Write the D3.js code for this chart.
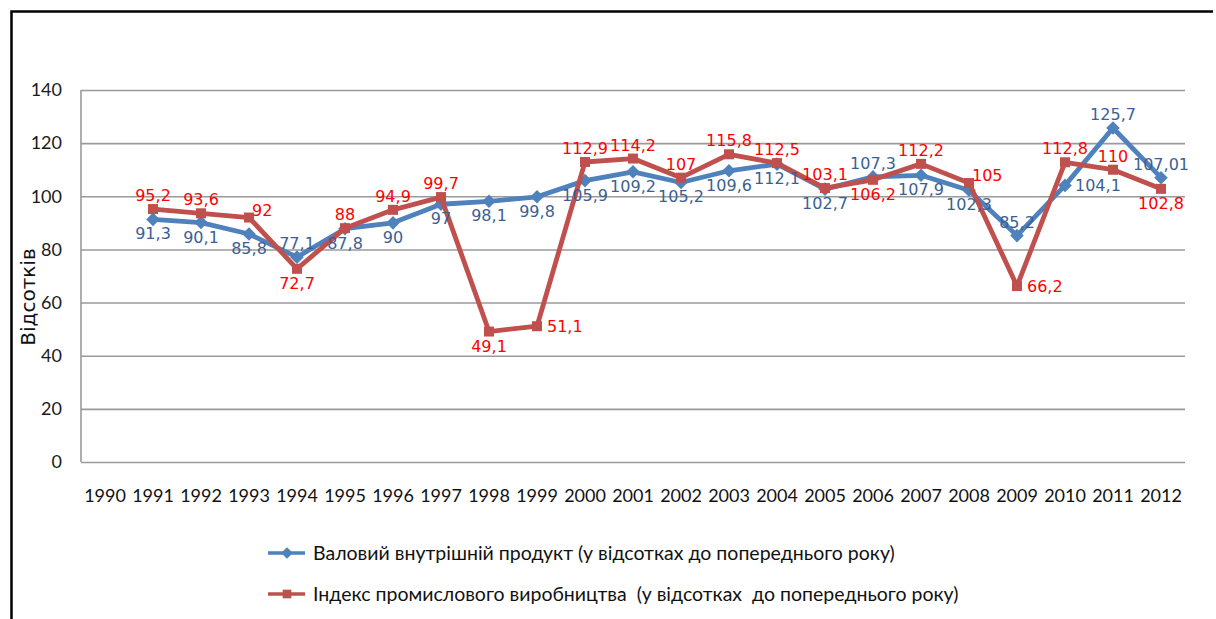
<!DOCTYPE html>
<html>
<head>
<meta charset="utf-8">
<script src="https://cdn.jsdelivr.net/npm/d3@7"></script>
<style>
    body { margin: 0; background: #fff; }
</style>
</head>
<body>
<div id="chart"></div>
<script>
const years = ["1990", "1991", "1992", "1993", "1994", "1995", "1996", "1997", "1998", "1999", "2000", "2001",
    "2002", "2003", "2004", "2005", "2006", "2007", "2008", "2009", "2010", "2011", "2012"]
const gdp = [null, 91.3, 90.1, 85.8, 77.1, 87.8, 90, 97, 98.1, 99.8, 105.9, 109.2,
    105.2, 109.6, 112.1, 102.7, 107.3, 107.9, 102.3, 85.2, 104.1, 125.7, 107.01]
const industry = [null, 95.2, 93.6, 92, 72.7, 88, 94.9, 99.7, 49.1, 51.1, 112.9, 114.2,
    107, 115.8, 112.5, 103.1, 106.2, 112.2, 105, 66.2, 112.8, 110, 102.8]
const yTicks = [0, 20, 40, 60, 80, 100, 120, 140]
const seriesNames = [
    "Валовий внутрішній продукт (у відсотках до попереднього року)",
    "Індекс промислового виробництва  (у відсотках  до попереднього року)"
]
const yTitle = "Відсотків"

// where Excel put each data label: t = above, b = below, r = right, tr = right and a bit up
const gdpLabelPos = [null, "b", "b", "b", "t", "b", "b", "b", "b", "b", "b", "b",
    "b", "b", "b", "b", "t", "b", "b", "t", "r", "t", "t"]
const industryLabelPos = [null, "t", "t", "tr", "b", "t", "t", "t", "b", "r", "t", "t",
    "t", "t", "t", "t", "b", "t", "tr", "r", "t", "t", "b"]

const WIDTH = 1216
const HEIGHT = 619
const PLOT = { left: 81, right: 1185, top: 90, bottom: 462 }
const AXIS_FONT = "Lato, 'Open Sans', sans-serif"
const LABEL_FONT = "'DejaVu Sans', Verdana, sans-serif"

const svg = d3.select("#chart")
    .append("svg")
    .attr("width", WIDTH)
    .attr("height", HEIGHT)

// outer chart frame (only top and left edges show in the picture)
svg.append("path")
    .attr("d", "M11.5,619 V11.5 H1213")
    .attr("fill", "none")
    .attr("stroke", "#000")
    .attr("stroke-width", 2.5)

let x = d3.scaleBand()
    .domain(years)
    .range([PLOT.left, PLOT.right])
let y = d3.scaleLinear()
    .domain([0, 140])
    .range([PLOT.bottom, PLOT.top])
let cx = d => x(d) + x.bandwidth() / 2

// gridlines + y tick labels
let yAxis = svg.append("g")
    .attr("transform", `translate(${PLOT.left},0)`)
    .call(d3.axisLeft(y)
        .tickValues(yTicks)
        .tickSize(-(PLOT.right - PLOT.left))
        .tickPadding(19)
        .tickFormat(d3.format("d")))
yAxis.select(".domain").remove()
yAxis.selectAll(".tick line")
    .attr("stroke", "#9a9a9a")
    .attr("stroke-width", 1.6)
yAxis.selectAll(".tick text")
    .attr("font-family", AXIS_FONT)
    .attr("font-size", 18)
    .attr("fill", "#1a1a1a")

// vertical axis line
svg.append("line")
    .attr("x1", PLOT.left).attr("x2", PLOT.left)
    .attr("y1", y(140)).attr("y2", y(0))
    .attr("stroke", "#9a9a9a")
    .attr("stroke-width", 1.6)

let xAxis = svg.append("g")
    .attr("transform", `translate(0,${PLOT.bottom})`)
    .call(d3.axisBottom(x).tickSize(0).tickPadding(27))
xAxis.select(".domain").remove()
xAxis.selectAll(".tick text")
    .attr("font-family", AXIS_FONT)
    .attr("font-size", 18)
    .attr("fill", "#111")

svg.append("text")
    .attr("transform", `translate(35,${(y(0) + y(140)) / 2 + 21}) rotate(-90)`)
    .attr("text-anchor", "middle")
    .attr("font-family", LABEL_FONT)
    .attr("font-size", 20)
    .attr("fill", "#111")
    .text(yTitle)

let series = [
    { name: seriesNames[0], values: gdp, pos: gdpLabelPos, color: "#4F81BD", textColor: "#3B5F94", marker: "diamond" },
    { name: seriesNames[1], values: industry, pos: industryLabelPos, color: "#C0504D", textColor: "#FF0000", marker: "square" }
]

function markerPath(kind, scale) {
    if (kind === "diamond") {
        return d3.symbol(d3.symbolSquare, 92 * scale)()
    }
    return d3.symbol(d3.symbolSquare, 100 * scale)()
}

let line = d3.line()
    .defined(d => d.v != null)
    .x(d => cx(d.year))
    .y(d => y(d.v))

series.forEach(s => {
    let pts = years.map((yr, i) => ({ year: yr, v: s.values[i], pos: s.pos[i] }))
    s.points = pts.filter(p => p.v != null)

    svg.append("path")
        .datum(pts)
        .attr("d", line)
        .attr("fill", "none")
        .attr("stroke", s.color)
        .attr("stroke-width", 4.8)
        .attr("stroke-linejoin", "round")

    svg.append("g")
        .selectAll("path")
        .data(s.points)
        .join("path")
            .attr("d", markerPath(s.marker, 1))
            .attr("transform", d => `translate(${cx(d.year)},${y(d.v)})` + (s.marker === "diamond" ? " rotate(45)" : ""))
            .attr("fill", s.color)
})

function labelPlace(pos) {
    if (pos === "t") return { dx: 0, dy: -8, anchor: "middle" }
    if (pos === "b") return { dx: 0, dy: 20, anchor: "middle" }
    if (pos === "r") return { dx: 10, dy: 6, anchor: "start" }
    return { dx: 3, dy: -2, anchor: "start" }
}

series.forEach(s => {
    svg.append("g")
        .selectAll("text")
        .data(s.points)
        .join("text")
            .attr("x", d => cx(d.year) + labelPlace(d.pos).dx)
            .attr("y", d => y(d.v) + labelPlace(d.pos).dy)
            .attr("text-anchor", d => labelPlace(d.pos).anchor)
            .attr("font-family", LABEL_FONT)
            .attr("font-size", 16)
            .attr("fill", s.textColor)
            .text(d => String(d.v).replace(".", ","))
})

// legend
let legend = svg.append("g")
    .selectAll("g")
    .data(series)
    .join("g")
        .attr("transform", (d, i) => `translate(268,${553 + i * 41})`)

legend.append("line")
    .attr("x1", 0).attr("x2", 37)
    .attr("stroke", d => d.color)
    .attr("stroke-width", 3.5)
legend.append("path")
    .attr("d", d => markerPath(d.marker, 0.75))
    .attr("transform", d => "translate(19,0)" + (d.marker === "diamond" ? " rotate(45)" : ""))
    .attr("fill", d => d.color)
legend.append("text")
    .attr("x", 45)
    .attr("dy", "0.35em")
    .attr("font-family", AXIS_FONT)
    .attr("font-size", 19.5)
    .attr("fill", "#111")
    .style("white-space", "pre")
    .text(d => d.name)
</script>
</body>
</html>
